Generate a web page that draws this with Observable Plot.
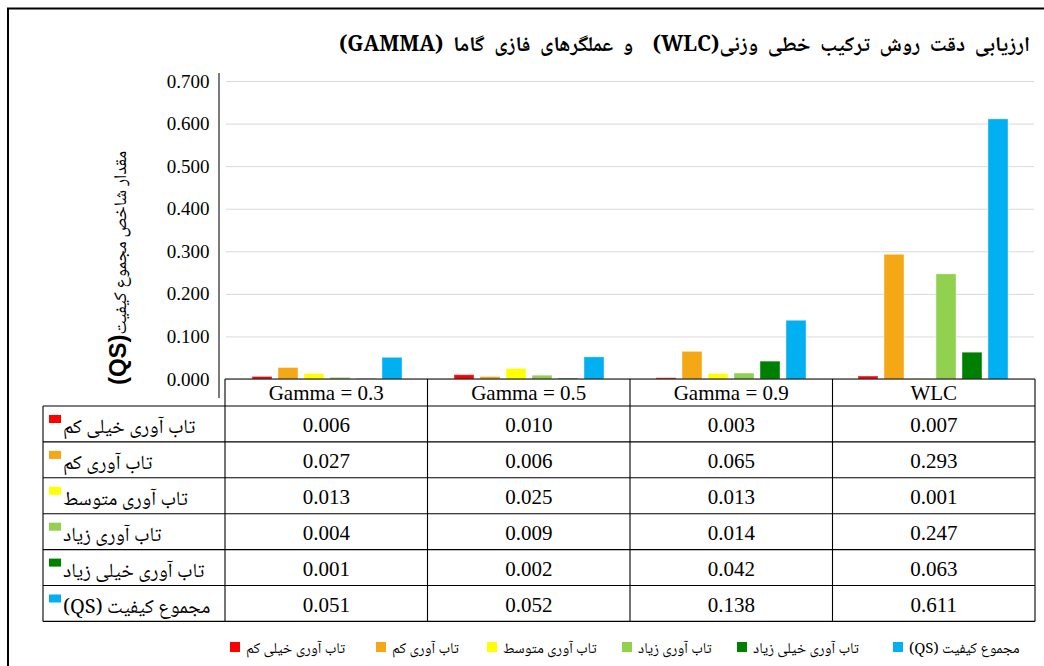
<!DOCTYPE html>
<html>
<head>
<meta charset="utf-8">
<script src="https://cdn.jsdelivr.net/npm/d3@7"></script>
<script src="https://cdn.jsdelivr.net/npm/@observablehq/plot@0.6"></script>
<style>
  html, body { margin: 0; padding: 0; background: #ffffff; }
  #chart { position: relative; width: 1044px; height: 666px; overflow: hidden; }
  #chart svg g[aria-label="y-axis tick label"] text { font-family: "Liberation Serif", "Times New Roman", serif !important; font-size: 19px !important; }
</style>
</head>
<body>
<div id="chart"></div>
<script>
// ---- data ----
const categories = ["Gamma = 0.3", "Gamma = 0.5", "Gamma = 0.9", "WLC"];
const seriesNames = [
  "تاب آوری خیلی کم",
  "تاب آوری کم",
  "تاب آوری متوسط",
  "تاب آوری زیاد",
  "تاب آوری خیلی زیاد",
  "مجموع کیفیت (QS)"
];
const veryLow  = [0.006, 0.010, 0.003, 0.007];
const low      = [0.027, 0.006, 0.065, 0.293];
const medium   = [0.013, 0.025, 0.013, 0.001];
const high     = [0.004, 0.009, 0.014, 0.247];
const veryHigh = [0.001, 0.002, 0.042, 0.063];
const qs       = [0.051, 0.052, 0.138, 0.611];
const seriesValues = [veryLow, low, medium, high, veryHigh, qs];
const colors = ["#FF0000", "#F5A816", "#FFFF00", "#92D050", "#008000", "#00B0F0"];
const yTicks = [0, 0.1, 0.2, 0.3, 0.4, 0.5, 0.6, 0.7];
const titleText = "ارزیابی دقت روش ترکیب خطی وزنی(WLC)  و عملگرهای فازی گاما (GAMMA)";
const yLabelMain = "مقدار شاخص مجموع کیفیت";
const yLabelBold = "(QS)";

const data = categories.flatMap((c, i) =>
  seriesNames.map((s, j) => ({cat: c, ser: s, value: seriesValues[j][i]}))
);

const W = 1044, H = 666;
const mTop = 81, mBottom = 287, mLeft = 225, mRight = 9;
const serifFont = "'Liberation Serif', 'Times New Roman', serif";
const arabicFont = "'Noto Naskh Arabic', 'Noto Sans Arabic', 'DejaVu Sans', sans-serif";

const chart = Plot.plot({
  width: W,
  height: H,
  marginTop: mTop,
  marginBottom: mBottom,
  marginLeft: mLeft,
  marginRight: mRight,
  style: {fontFamily: serifFont, fontSize: "16px", background: "#ffffff", overflow: "visible"},
  fx: {domain: categories, padding: 0, axis: null, label: null},
  x: {domain: seriesNames, paddingInner: 0.22, paddingOuter: 0.89, axis: null, label: null},
  y: {domain: [0, 0.7], label: null},
  color: {domain: seriesNames, range: colors},
  marks: [
    Plot.gridY(yTicks, {stroke: "#d9d9d9", strokeOpacity: 1, strokeWidth: 1}),
    Plot.barY(data, {fx: "cat", x: "ser", y: "value", fill: "ser", stroke: "#ffffff", strokeOpacity: 0.5, strokeWidth: 0.8}),
    Plot.axisY(yTicks, {tickFormat: d => d.toFixed(3), tickSize: 0, tickPadding: 17, fontSize: 19, fontFamily: serifFont, fill: "#000", label: null})
  ]
});

document.getElementById("chart").appendChild(chart);

// force serif face on every text drawn by Plot (axis tick labels)
chart.querySelectorAll("text").forEach(t => {
  t.style.fontFamily = "\"Liberation Serif\", \"Times New Roman\", serif";
  t.setAttribute("font-family", "Liberation Serif");
});

const svg = d3.select(chart);
const fxs = chart.scale("fx");
const fxBand = d3.scaleBand().domain(fxs.domain).range(fxs.range).padding(0);
const colX = c => fxBand(c);
const colW = fxBand.bandwidth();
const tableLeft = 43;
const tableRight = fxs.range[1];
const headerTop = 379, headerBottom = 406, rowH = 35.9;

// outer frame (left + top visible)
svg.append("path")
  .attr("d", `M8,${H + 5} L8,8.5 L${W + 5},8.5`)
  .attr("fill", "none").attr("stroke", "#000").attr("stroke-width", 2);

// y axis line
svg.append("line")
  .attr("x1", 219).attr("x2", 219).attr("y1", 73).attr("y2", 398)
  .attr("stroke", "#222").attr("stroke-width", 1.2);

// title
svg.append("text")
  .attr("x", 1030).attr("y", 51)
  .attr("direction", "rtl").attr("text-anchor", "start")
  .attr("font-family", "'Noto Naskh Arabic', 'DejaVu Serif', 'Liberation Serif', serif")
  .attr("font-weight", "bold").attr("font-size", 21).attr("word-spacing", 5).attr("fill", "#000")
  .text(titleText);

// y label
const yl = svg.append("text")
  .attr("transform", "translate(126,268) rotate(-90)")
  .attr("direction", "rtl").attr("text-anchor", "middle")
  .attr("font-family", arabicFont).attr("fill", "#000");
yl.append("tspan").attr("font-size", 18).text(yLabelMain);
yl.append("tspan").attr("font-size", 24).attr("font-weight", "bold")
  .attr("font-family", "'Liberation Sans', Arial, sans-serif").text(yLabelBold);

// table
const tg = svg.append("g").attr("stroke", "#000").attr("stroke-width", 1.1).attr("fill", "none");
const nRows = seriesNames.length;
const tableBottom = headerBottom + nRows * rowH;
tg.append("line").attr("x1", mLeft).attr("x2", tableRight).attr("y1", headerTop).attr("y2", headerTop);
for (let r = 0; r <= nRows; r++) {
  const y = headerBottom + r * rowH;
  tg.append("line").attr("x1", tableLeft).attr("x2", tableRight).attr("y1", y).attr("y2", y);
}
tg.append("line").attr("x1", tableLeft).attr("x2", tableLeft).attr("y1", headerBottom).attr("y2", tableBottom);
categories.forEach(c => {
  tg.append("line").attr("x1", colX(c)).attr("x2", colX(c)).attr("y1", headerTop).attr("y2", tableBottom);
});
tg.append("line").attr("x1", tableRight).attr("x2", tableRight).attr("y1", headerTop).attr("y2", tableBottom);

// header labels
categories.forEach(c => {
  svg.append("text")
    .attr("x", colX(c) + colW / 2).attr("y", headerTop + 21)
    .attr("text-anchor", "middle").attr("font-family", serifFont)
    .attr("font-size", 21).attr("fill", "#000").text(c);
});

// rows
seriesNames.forEach((s, j) => {
  const top = headerBottom + j * rowH;
  svg.append("rect")
    .attr("x", 49).attr("y", top + 9).attr("width", 12).attr("height", 8)
    .attr("fill", colors[j]);
  svg.append("text")
    .attr("x", 63).attr("y", top + 27)
    .attr("direction", "rtl").attr("text-anchor", "end")
    .attr("font-family", arabicFont).attr("font-size", 20).attr("fill", "#000")
    .text(s);
  categories.forEach((c, i) => {
    svg.append("text")
      .attr("x", colX(c) + colW / 2).attr("y", top + 26)
      .attr("text-anchor", "middle").attr("font-family", serifFont)
      .attr("font-size", 21).attr("fill", "#000")
      .text(seriesValues[j][i].toFixed(3));
  });
});

// legend
const legendSq = [230, 376, 487, 622, 737, 893];
seriesNames.forEach((s, j) => {
  svg.append("rect")
    .attr("x", legendSq[j]).attr("y", 642).attr("width", 10).attr("height", 10)
    .attr("fill", colors[j]);
  svg.append("text")
    .attr("x", legendSq[j] + 16).attr("y", 653)
    .attr("direction", "rtl").attr("text-anchor", "end")
    .attr("font-family", arabicFont).attr("font-size", 15).attr("fill", "#000")
    .text(s);
});
</script>
</body>
</html>
